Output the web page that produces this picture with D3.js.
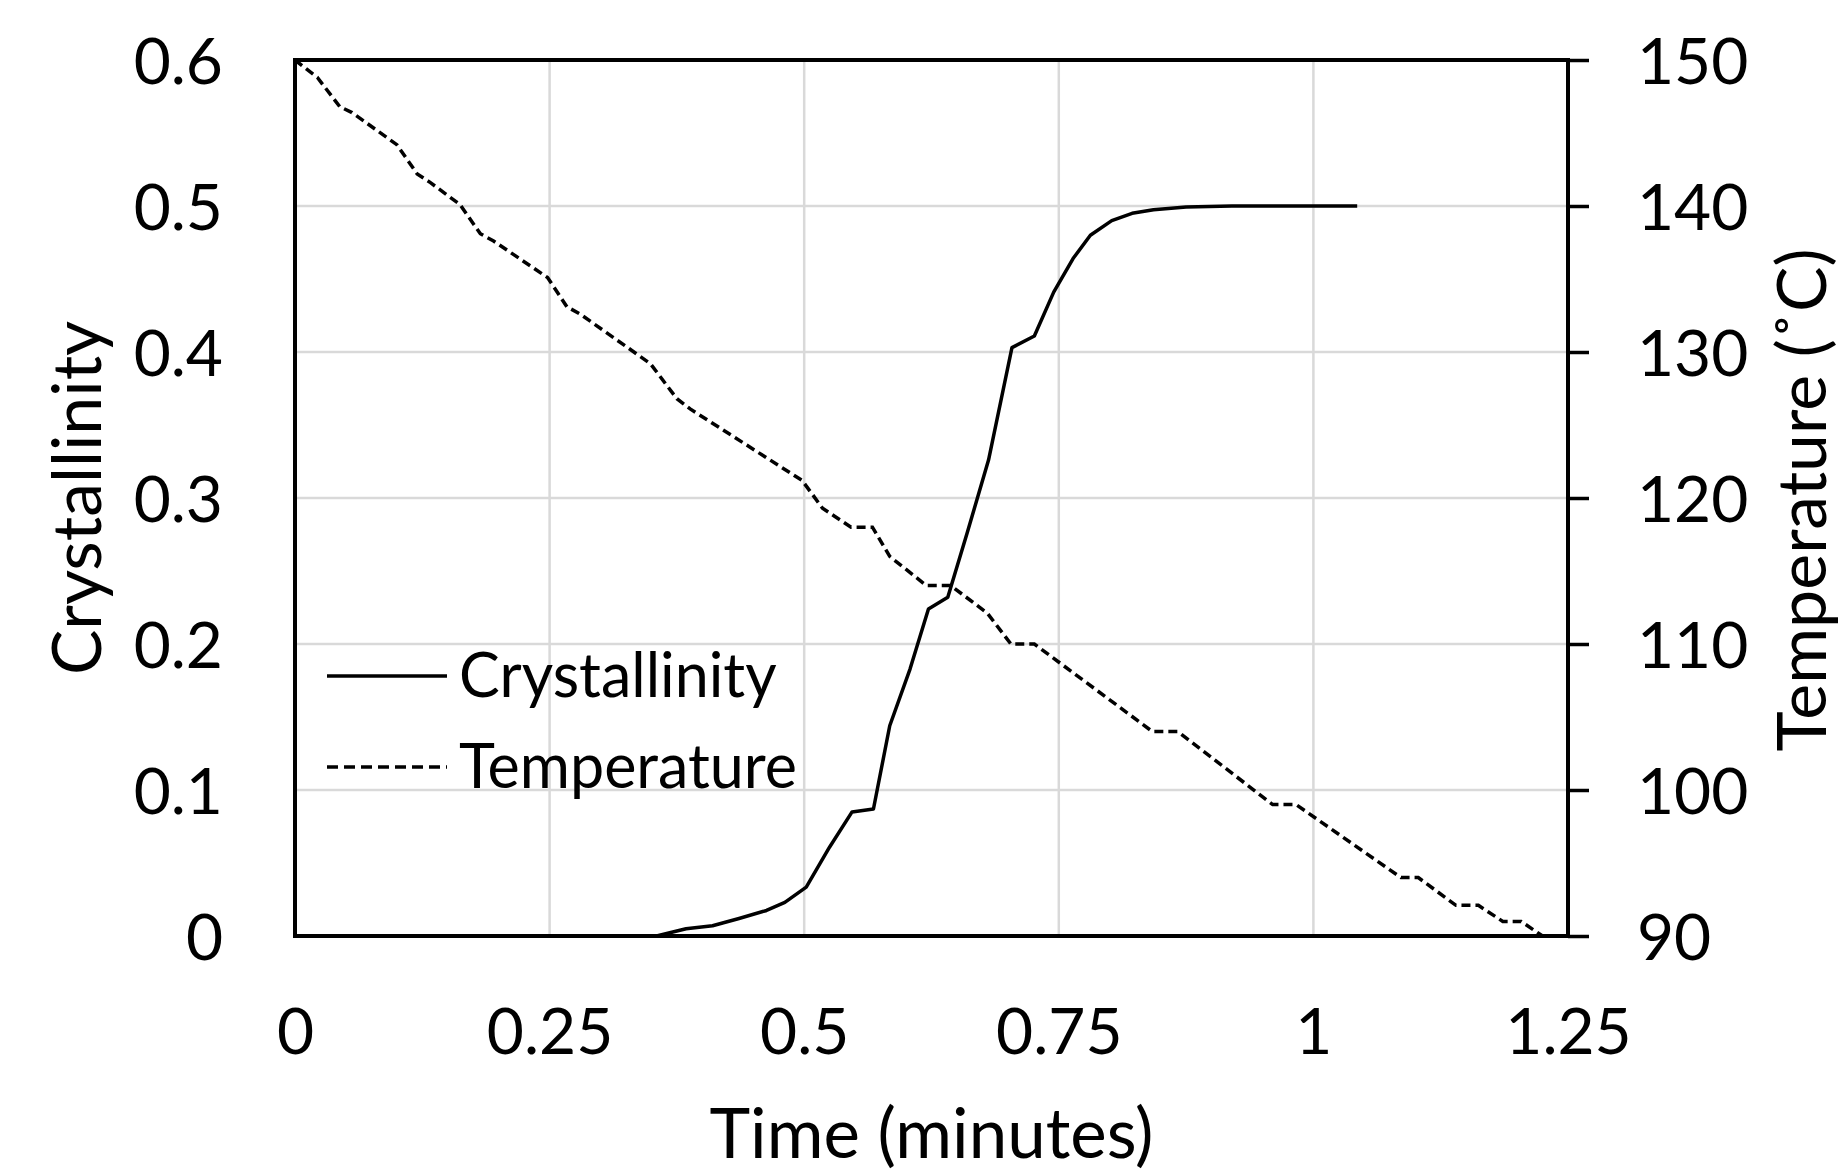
<!DOCTYPE html>
<head>
	<meta charset="utf-8">
	<script src="https://d3js.org/d3.v7.min.js"></script>
	<style>
	    body { margin: 0; background: white; }
	    text { font-family: "Lato", "Open Sans", sans-serif; fill: black; }
	    .grid line { stroke: #d9d9d9; stroke-width: 2.5px; }
	</style>
</head>
<body>
    <script>
        // plot box in page pixels
        var margin = {top: 60, right: 275, bottom: 239, left: 295},
			w = 1843 - margin.left - margin.right,
			h = 1175 - margin.top - margin.bottom;

		// tick values
		var timeTicks = [0, 0.25, 0.5, 0.75, 1, 1.25];
		var crystTicks = [0, 0.1, 0.2, 0.3, 0.4, 0.5, 0.6];
		var tempTicks = [90, 100, 110, 120, 130, 140, 150];

		// crystallinity curve (solid, left axis)
		var crystTime = [0.355, 0.384, 0.41, 0.436, 0.463, 0.481, 0.502, 0.525, 0.547, 0.568,
			0.584, 0.604, 0.622, 0.641, 0.66, 0.681, 0.704, 0.726, 0.745, 0.764,
			0.781, 0.802, 0.822, 0.843, 0.875, 0.92, 1.043];
		var crystValue = [0, 0.005, 0.007, 0.012, 0.0175, 0.023, 0.0335, 0.061, 0.085, 0.087,
			0.144, 0.183, 0.224, 0.232, 0.276, 0.326, 0.403, 0.411, 0.441, 0.464,
			0.48, 0.49, 0.495, 0.4975, 0.4993, 0.5, 0.5];

		// temperature curve (dashed, right axis)
		var tempTime = [0, 0.022, 0.044, 0.056, 0.1, 0.12, 0.133, 0.162, 0.182, 0.195,
			0.248, 0.267, 0.28, 0.349, 0.375, 0.388, 0.498, 0.518, 0.546, 0.567,
			0.584, 0.62, 0.644, 0.68, 0.703, 0.726, 0.842, 0.867, 0.96, 0.983,
			1.086, 1.103, 1.14, 1.162, 1.186, 1.204, 1.225];
		var tempValue = [150, 148.8, 146.8, 146.4, 144.2, 142.2, 141.6, 140.1, 138.1, 137.6,
			135.1, 133.1, 132.6, 129.2, 126.8, 126.1, 121.2, 119.3, 118, 118,
			116, 114, 114, 112.1, 110, 110, 104, 104, 99, 99,
			94, 94, 92.1, 92.1, 91, 91, 90];

		var crystData = crystTime.map(function(t, i) { return {t: t, v: crystValue[i]}; });
		var tempData = tempTime.map(function(t, i) { return {t: t, v: tempValue[i]}; });

        ///////////////////////////////////////////////////////////////////////////////

		var svg = d3.select("body").append("svg")
				.attr("width", w + margin.left + margin.right)
				.attr("height", h + margin.top + margin.bottom)
			.append("g")
				.attr("transform", "translate(" + margin.left + "," + margin.top + ")");

		var xScale = d3.scaleLinear().domain([0, 1.25]).range([0, w]);
		var yLeft = d3.scaleLinear().domain([0, 0.6]).range([h, 0]);
		var yRight = d3.scaleLinear().domain([90, 150]).range([h, 0]);

		// gridlines
		svg.append("g").attr("class", "grid")
			.selectAll("line")
			.data(timeTicks.slice(1, -1))
			.enter().append("line")
			.attr("x1", function(d) { return xScale(d); })
			.attr("x2", function(d) { return xScale(d); })
			.attr("y1", 0)
			.attr("y2", h);

		svg.append("g").attr("class", "grid")
			.selectAll("line")
			.data(crystTicks.slice(1, -1))
			.enter().append("line")
			.attr("x1", 0)
			.attr("x2", w)
			.attr("y1", function(d) { return yLeft(d); })
			.attr("y2", function(d) { return yLeft(d); });

		// axes
		var xAxis = svg.append("g")
			.attr("transform", "translate(0," + h + ")")
			.call(d3.axisBottom(xScale).tickValues(timeTicks).tickSize(0)
				.tickFormat(function(d) { return String(d); }));
		xAxis.selectAll("text").attr("y", 118).attr("dy", null);

		var leftAxis = svg.append("g")
			.call(d3.axisLeft(yLeft).tickValues(crystTicks).tickSize(0)
				.tickFormat(function(d) { return String(d); }));
		leftAxis.selectAll("text").attr("x", -72).attr("dy", "0.36em");

		var rightAxis = svg.append("g")
			.attr("transform", "translate(" + w + ",0)")
			.call(d3.axisRight(yRight).tickValues(tempTicks).tickSize(21)
				.tickFormat(function(d) { return String(d); }));
		rightAxis.selectAll("text").attr("x", 69).attr("dy", "0.36em");
		rightAxis.selectAll("line").attr("stroke", "black").attr("stroke-width", 3.5);

		svg.selectAll(".domain").remove();
		svg.selectAll(".tick text").style("font-size", "64px");

		// plot frame
		svg.append("rect")
			.attr("x", 0).attr("y", 0)
			.attr("width", w).attr("height", h)
			.attr("fill", "none")
			.attr("stroke", "black")
			.attr("stroke-width", 4);

		// lines
		var crystLine = d3.line()
			.x(function(d) { return xScale(d.t); })
			.y(function(d) { return yLeft(d.v); });

		var tempLine = d3.line()
			.x(function(d) { return xScale(d.t); })
			.y(function(d) { return yRight(d.v); });

		svg.append("path")
			.datum(tempData)
			.attr("d", tempLine)
			.attr("fill", "none")
			.attr("stroke", "black")
			.attr("stroke-width", 3.5)
			.attr("stroke-dasharray", "9,5");

		svg.append("path")
			.datum(crystData)
			.attr("d", crystLine)
			.attr("fill", "none")
			.attr("stroke", "black")
			.attr("stroke-width", 3.5)
			.attr("stroke-linejoin", "round");

		// axis titles
		svg.append("text")
			.attr("x", w / 2)
			.attr("y", h + 222)
			.attr("text-anchor", "middle")
			.style("font-size", "69px")
			.text("Time (minutes)");

		svg.append("text")
			.attr("transform", "translate(" + (101 - margin.left) + "," + (h / 2) + ") rotate(-90)")
			.attr("text-anchor", "middle")
			.style("font-size", "68px")
			.text("Crystallinity");

		svg.append("text")
			.attr("transform", "translate(" + (1826 - margin.left) + "," + (h / 2 + 2) + ") rotate(-90)")
			.attr("text-anchor", "middle")
			.style("font-size", "68px")
			.text("Temperature (˚C)");

		// legend
		var legendItems = [
			{name: "Crystallinity", dash: null, y: 616},
			{name: "Temperature", dash: "11,6", y: 707}
		];

		var legend = svg.append("g").selectAll("g")
			.data(legendItems)
			.enter().append("g");

		legend.append("line")
			.attr("x1", 32).attr("x2", 152)
			.attr("y1", function(d) { return d.y; })
			.attr("y2", function(d) { return d.y; })
			.attr("stroke", "black")
			.attr("stroke-width", 3.5)
			.attr("stroke-dasharray", function(d) { return d.dash; });

		legend.append("text")
			.attr("x", 164)
			.attr("y", function(d) { return d.y + 21; })
			.style("font-size", "61px")
			.text(function(d) { return d.name; });

    </script>
</body>
